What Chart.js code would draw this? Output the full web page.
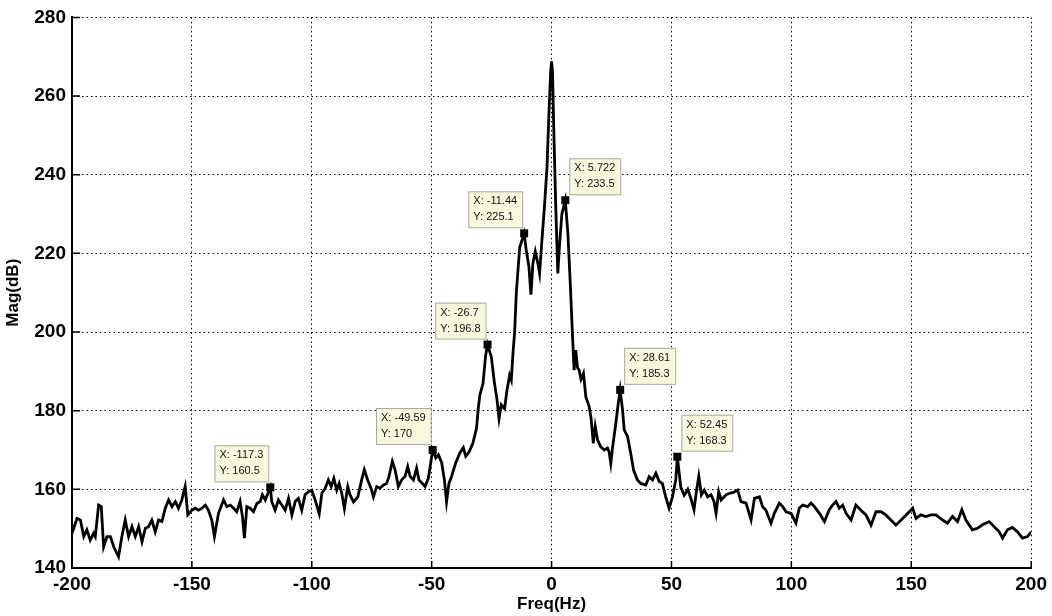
<!DOCTYPE html>
<html>
<head>
<meta charset="utf-8">
<script src="https://cdn.jsdelivr.net/npm/chart.js@4/dist/chart.umd.min.js"></script>
<style>
  body { margin: 0; background: #fff; }
</style>
</head>
<body>
<canvas id="myChart" width="1052" height="616"></canvas>
<script>
// spectrum, split into pieces (Hz / dB)
const freqLow = [
  -200, -197.9, -196.5, -195.1, -193.8, -192.4, -191, -190.3, -188.9, -187.8,
  -186.8, -185.4, -184, -182.6, -180.6, -179.2, -177.8, -176.4, -175, -173.6,
  -172.2, -170.8, -169.4, -168.1, -166.7, -165.3, -163.9, -162.5, -161.1, -159.7,
  -158.3, -156.9, -155.6, -154.2, -152.8, -151.7, -150, -148.6, -147.2, -145.8,
  -144.4, -143.1, -141.7, -140.6, -138.9, -136.8, -135.4, -134, -132.6, -131.3,
  -129.9, -128.9, -128.1, -127.1, -125.7, -124.3, -122.9, -121.5, -120.6, -119.4,
  -117.3, -116.7, -115.3, -113.9, -112.5, -111.1, -109.7, -108.3, -106.9, -105.6,
  -104.2, -102.8, -101.4, -100
];
const magLow = [
  148.8, 152.6, 152.2, 148.0, 149.7, 147.1, 148.8, 148.0, 156.0, 155.6,
  145.4, 148.0, 148.0, 145.4, 142.9, 148.0, 152.2, 148.0, 150.5, 148.0,
  150.5, 146.7, 150.1, 150.5, 152.2, 149.2, 152.2, 151.8, 155.2, 157.3,
  155.6, 156.9, 155.2, 157.3, 160.7, 153.5, 154.7, 155.2, 154.7, 155.2,
  156.0, 154.7, 152.2, 148.0, 153.9, 157.3, 155.6, 156.0, 155.2, 154.3,
  156.9, 153.0, 147.6, 155.6, 155.2, 154.3, 156.4, 156.9, 158.6, 157.3,
  160.5, 156.9, 154.7, 157.3, 156.0, 154.7, 157.7, 153.5, 156.9, 157.7,
  154.7, 158.6, 159.4, 159.8
];

const freqMid = [
  -98.6, -96.9, -95.8, -94.4, -93.1, -91.9, -90.8, -89.6, -88.6, -87.5,
  -86.4, -85, -84, -82.6, -80.8, -79.2, -78.1, -76.7, -75.3, -74.3,
  -72.9, -71.5, -70.1, -68.8, -67.8, -66.4, -65.3, -63.9, -62.5, -61.1,
  -60, -59, -57.6, -56.3, -55.3, -53.9, -52.8, -51.4, -50.4, -49.59,
  -48.3, -47.2, -45.8, -44.7, -43.8, -42.8, -41.7, -40, -38.2, -36.8,
  -35.8, -34.4
];
const magMid = [
  157.3, 153.8, 159.0, 160.3, 162.4, 160.7, 162.8, 159.8, 161.5, 159.0,
  155.1, 160.7, 158.5, 156.8, 158.1, 162.4, 165.0, 162.4, 160.3, 158.1,
  160.7, 160.3, 161.1, 161.5, 163.3, 167.1, 165.0, 160.7, 162.4, 163.3,
  165.8, 163.3, 162.4, 165.4, 162.4, 161.5, 160.7, 162.8, 166.7, 170.0,
  168.0, 168.8, 166.7, 162.4, 156.8, 161.5, 163.3, 166.7, 169.3, 170.6,
  168.4, 169.5
];

const freqPeak = [
  -32.8, -31.3, -30.6, -29.9, -28.6, -27.5, -26.7, -25.1, -23.8, -22.8,
  -21.9, -21.0, -19.6, -18.6, -17.5, -16.8, -16.1, -15.4, -14.7, -13.3,
  -11.44, -10.6, -9.45, -8.6, -7.8, -6.8, -5.7, -5.0, -4.3, -2.9,
  -1.9, -1.1, -0.4, 0, 0.4, 0.9, 1.7, 2.6, 3.3, 4.3,
  5.722, 6.8, 7.8, 8.75, 9.4, 10.1, 10.8, 11.5, 12.3, 13.3,
  14.3, 15.7, 16.5, 17.4, 18.2, 19.2, 20.5, 22, 23.3, 24,
  24.7, 25.4, 26.8, 27.8, 28.61, 29.6, 30.3, 31.7, 33, 34.2,
  35.8, 37.2, 39.3, 40.7, 42.1, 43.5, 44.9, 46.2, 47.6, 49,
  50.4, 51.8, 52.45
];
const magPeak = [
  171.8, 175.5, 180.4, 184.0, 186.9, 194.0, 196.8, 193.6, 186.9, 183.0,
  178.0, 181.5, 180.5, 185.2, 189.0, 187.8, 194.6, 200.0, 210.0, 221.5,
  225.1, 221.0, 216.6, 209.5, 217.4, 220.5, 217.4, 214.9, 221.0, 232.5,
  242.0, 255.5, 266.0, 268.8, 266.0, 252.0, 232.7, 214.9, 222.0, 230.0,
  233.5, 225.1, 212.3, 198.8, 190.3, 195.4, 191.0, 190.3, 188.0, 189.5,
  183.5, 181.0, 178.0, 171.7, 176.0, 172.5, 170.8, 170.0, 170.5, 169.5,
  166.6, 170.5, 176.8, 181.8, 185.3, 180.2, 175.1, 173.4, 169.2, 164.9,
  162.4, 161.5, 161.1, 163.2, 162.4, 164.1, 162.0, 161.5, 158.1, 155.2,
  158.1, 162.4, 168.3
];

const freqHigh = [
  53.9, 55.3, 56.8, 58.2, 59.4, 60.4, 61.4, 62.5, 63.7, 65.1,
  66.5, 67.7, 68.6, 69.7, 70.7, 72.8, 74.2, 75.8, 77.6, 79,
  81.1, 83.2, 84.6, 86.7, 88, 89.4, 91.5, 92.9, 95, 96.4,
  97.8, 99.9, 101.9, 103.3, 104.7, 106.8, 108.2, 109.6, 111.7, 113.8,
  115.8, 117.2, 118.6, 120, 121.4, 122.8, 124.9, 126.9, 129, 131.1,
  133.2, 135.3, 137.4, 139.4, 141.5, 143.6, 146.4, 149.2, 150.6, 152,
  154, 156.1, 158.2, 160.3, 163.1, 165.1, 167.2, 169.3, 171.1, 172.8,
  175.5, 177.6, 179.7, 182.5, 184.6, 186.7, 188.1, 190.1, 192.2, 194.3,
  196.4, 198.5, 200
];
const magHigh = [
  160.5, 158.5, 160.0, 157.5, 154.8, 159.5, 163.3, 158.6, 159.8, 158.1,
  158.6, 157.0, 153.9, 159.4, 157.3, 158.6, 159.0, 159.2, 159.8, 156.9,
  156.5, 152.2, 157.7, 158.1, 155.6, 154.7, 151.4, 153.9, 156.5, 155.6,
  154.3, 153.9, 151.4, 155.2, 156.0, 155.6, 156.5, 155.6, 153.9, 151.8,
  154.8, 156.0, 156.9, 155.2, 156.0, 153.9, 152.2, 156.0, 154.7, 153.5,
  150.9, 154.3, 154.3, 153.5, 152.2, 150.9, 152.6, 154.3, 155.2, 152.6,
  153.5, 153.1, 153.5, 153.5, 152.2, 151.4, 153.1, 151.8, 154.8, 152.2,
  149.7, 150.1, 151.0, 151.8, 150.5, 149.2, 147.6, 149.7, 150.3, 149.2,
  147.6, 148.0, 149.2
];

// data tips shown on the plot
const tipFreq = [-117.3, -49.59, -26.7, -11.44, 5.722, 28.61, 52.45];
const tipMag = [160.5, 170, 196.8, 225.1, 233.5, 185.3, 168.3];

const freqHz = [].concat(freqLow, freqMid, freqPeak, freqHigh);
const magDb = [].concat(magLow, magMid, magPeak, magHigh);
const points = freqHz.map((f, i) => ({ x: f, y: magDb[i] }));

const FONT = "Arial, 'Liberation Sans', Helvetica, sans-serif";

// matlab style: inward ticks + data tip boxes
const matlabExtras = {
  id: "matlabExtras",
  afterDatasetsDraw(chart) {
    const { ctx, chartArea } = chart;
    const xs = chart.scales.x;
    const ys = chart.scales.y;

    ctx.save();
    ctx.strokeStyle = "#000";
    ctx.lineWidth = 1.5;
    ctx.beginPath();
    xs.ticks.forEach((t) => {
      const px = xs.getPixelForValue(t.value);
      ctx.moveTo(px, chartArea.bottom);
      ctx.lineTo(px, chartArea.bottom - 7);
    });
    ys.ticks.forEach((t) => {
      const py = ys.getPixelForValue(t.value);
      ctx.moveTo(chartArea.left, py);
      ctx.lineTo(chartArea.left + 8, py);
    });
    ctx.stroke();

    ctx.font = "11px " + FONT;
    ctx.textBaseline = "middle";
    tipFreq.forEach((f, i) => {
      const px = xs.getPixelForValue(f);
      const py = ys.getPixelForValue(tipMag[i]);
      const l1 = "X: " + f;
      const l2 = "Y: " + tipMag[i];
      const w = Math.max(ctx.measureText(l1).width, ctx.measureText(l2).width) + 10;
      const h = 36;
      const bx = f < 0 ? px - w - 2 : px + 4;
      const by = py - 6 - h;
      ctx.fillStyle = "#f8f8df";
      ctx.fillRect(bx, by, w, h);
      ctx.strokeStyle = "#a8a8a0";
      ctx.lineWidth = 1;
      ctx.strokeRect(bx + 0.5, by + 0.5, w, h);
      ctx.fillStyle = "#111";
      ctx.fillText(l1, bx + 5, by + 10);
      ctx.fillText(l2, bx + 5, by + 26);
      ctx.fillStyle = "#000";
      ctx.fillRect(px - 4, py - 4, 8, 8);
    });
    ctx.restore();
  },
};

const ctx = document.getElementById("myChart").getContext("2d");
new Chart(ctx, {
  type: "line",
  data: {
    datasets: [
      {
        data: points,
        borderColor: "#000",
        borderWidth: 2.8,
        pointRadius: 0,
        tension: 0,
        fill: false,
      },
    ],
  },
  options: {
    responsive: false,
    animation: false,
    layout: { padding: { top: 17, right: 19, left: 0, bottom: 0 } },
    plugins: {
      legend: { display: false },
      tooltip: { enabled: false },
    },
    scales: {
      x: {
        type: "linear",
        min: -200,
        max: 200,
        ticks: {
          stepSize: 50,
          color: "#000",
          padding: 5,
          maxRotation: 0,
          font: { family: FONT, size: 19, weight: "bold" },
        },
        grid: { color: "#000", lineWidth: 1, drawTicks: false },
        border: { display: true, color: "#000", width: 2, dash: [1.5, 3] },
        title: {
          display: true,
          text: "Freq(Hz)",
          color: "#000",
          padding: { top: 0, bottom: 1 },
          font: { family: FONT, size: 17, weight: "bold" },
        },
        afterFit: (scale) => { scale.height = 48; },
      },
      y: {
        min: 140,
        max: 280,
        ticks: {
          stepSize: 20,
          color: "#000",
          padding: 6,
          font: { family: FONT, size: 19, weight: "bold" },
        },
        grid: { color: "#000", lineWidth: 1, drawTicks: false },
        border: { display: true, color: "#000", width: 2, dash: [1.5, 3] },
        title: {
          display: true,
          text: "Mag(dB)",
          color: "#000",
          padding: { top: 3, bottom: 0 },
          font: { family: FONT, size: 17, weight: "bold" },
        },
        afterFit: (scale) => { scale.width = 72; },
      },
    },
  },
  plugins: [matlabExtras],
});
</script>
</body>
</html>
